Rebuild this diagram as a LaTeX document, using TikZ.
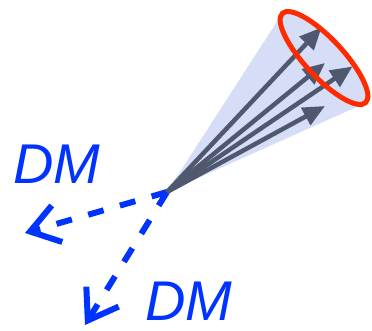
\documentclass[tikz,border=0pt]{standalone}
\usepackage{fontspec}
\setmainfont{Liberation Sans}
\usepackage{xcolor}
\definecolor{cJet}{HTML}{505870}
\definecolor{cCone}{HTML}{D6DDF6}
\definecolor{cRing}{HTML}{FF2A00}
\definecolor{cDM}{HTML}{0033FF}
\usetikzlibrary{arrows.meta}
\tikzset{
  arrow-jet/.style={-{Triangle[length=22pt,width=19pt]},line width=4.5pt,draw=cJet},
  arrow-dm/.style={-{Straight Barb[length=28pt,width=38pt]},line width=6pt,
    draw=cDM,dash pattern=on 16pt off 17pt},
  ring-jet/.style={draw=cRing,line width=5pt},
  cone-jet/.style={fill=cCone},
  label-dm/.style={text=cDM,inner sep=0pt,
    font=\fontsize{56}{60}\selectfont\itshape},
}

\begin{document}
\begin{tikzpicture}[x=1pt,y=1pt]
  \useasboundingbox (0,0) rectangle (372,331);
  \coordinate (vtx) at (167,139);
  \coordinate (dm-a) at (25,98);
  \coordinate (dm-b) at (85,6);
  % dark matter pair
  \draw[arrow-dm] (vtx) -- (dm-a);
  \draw[arrow-dm] (vtx) -- (dm-b);
  % jet cone
  \begin{scope}[shift={(324,273)},rotate=-47]
    \coordinate (rim-c) at (0,0);
    \coordinate (rim-a) at (60.7,-1.8);
    \coordinate (rim-b) at (-60.8,-1.3);
    \fill[cone-jet] (0,0) ellipse [x radius=61,y radius=19];
  \end{scope}
  \fill[cone-jet] (vtx) -- (rim-a) -- (rim-b) -- cycle;
  \foreach \x/\y [count=\i] in {321.5/303.5,325/268,352.5/264.5,325/225} {
    \coordinate (jet-\i) at (\x,\y);
    \draw[arrow-jet] (vtx) -- (jet-\i);
  }
  \draw[ring-jet] (rim-c) ellipse [x radius=61,y radius=19,rotate=-47];
  \node[label-dm] (dm-left) at (57,167) {DM};
  \node[label-dm] (dm-low) at (189,30) {DM};
\end{tikzpicture}
\end{document}
